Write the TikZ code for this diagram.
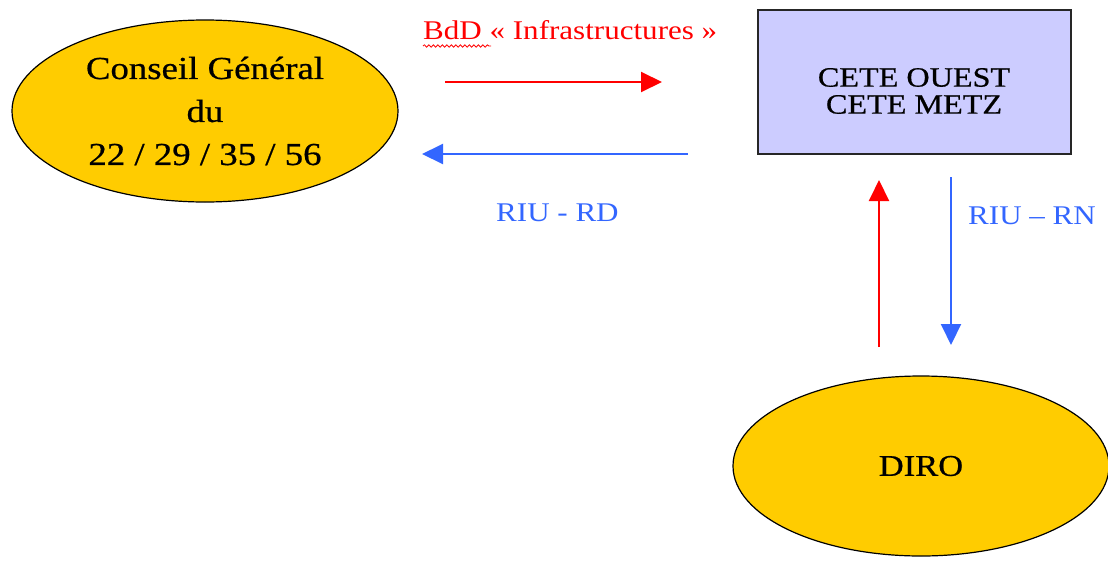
\documentclass[tikz,border=0pt]{standalone}
\usepackage{fontspec}
\setmainfont[FakeStretch=1.15]{Liberation Serif}
\newfontfamily\darkfont[FakeStretch=1.15,FakeBold=0.6]{Liberation Serif}
\usetikzlibrary{arrows.meta,shapes.geometric,decorations.pathmorphing}
\definecolor{gold}{HTML}{FFCC00}
\definecolor{lav}{HTML}{CCCCFF}
\definecolor{rred}{HTML}{FF0000}
\definecolor{bblue}{HTML}{3366FF}
\begin{document}
\begin{tikzpicture}[x=1pt,y=-1pt,
  oval/.style={ellipse,draw=black,line width=1.2pt,fill=gold,inner sep=0pt,align=center},
  boxnode/.style={rectangle,draw=black!85,line width=1.5pt,fill=lav,inner sep=0pt},
  flow/.style={line width=2pt,-{Triangle[length=21pt,width=20pt]}},
  lbl/.style={inner sep=0pt,anchor=base west,font=\fontsize{27}{32}\selectfont}]
\useasboundingbox (0,0) rectangle (1108,560);
\clip (0,0) rectangle (1108,560);

% nodes
\node[oval,minimum width=386pt,minimum height=182pt,font=\darkfont\fontsize{32}{43}\selectfont] (cg) at (205,111)
  {Conseil Général\\du\\22 / 29 / 35 / 56};
\node[boxnode,minimum width=313pt,minimum height=144pt] (cete) at (914.5,82) {};
\node[inner sep=0pt,align=center,font=\darkfont\fontsize{28}{27}\selectfont] (cetetxt) at (914,91)
  {CETE OUEST\\CETE METZ};
\node[oval,minimum width=376pt,minimum height=180pt,font=\darkfont\fontsize{30}{36}\selectfont] (diro) at (921,466)
  {DIRO};

% labels
\node[lbl,text=rred] (bdd) at (423,39) {BdD « Infrastructures »};
\node[lbl,text=bblue] (riurd) at (496,221) {RIU - RD};
\node[lbl,text=bblue] (riurn) at (968,224) {RIU – RN};

% spell-check wave under BdD
\coordinate (wA) at (423,46);
\coordinate (wB) at (491,46);
\draw[rred,line width=0.8pt,decorate,decoration={snake,amplitude=1.2pt,segment length=4.5pt}] (wA) -- (wB);

% connectors
\coordinate (r1s) at (445,82);
\coordinate (r1e) at (662,82);
\coordinate (b1s) at (688,154);
\coordinate (b1e) at (422,154);
\coordinate (r2s) at (879,347);
\coordinate (r2e) at (879,180);
\coordinate (b2s) at (951,177);
\coordinate (b2e) at (951,345);
\draw[flow,rred] (r1s) -- (r1e);
\draw[flow,bblue] (b1s) -- (b1e);
\draw[flow,rred] (r2s) -- (r2e);
\draw[flow,bblue] (b2s) -- (b2e);
\end{tikzpicture}
\end{document}
